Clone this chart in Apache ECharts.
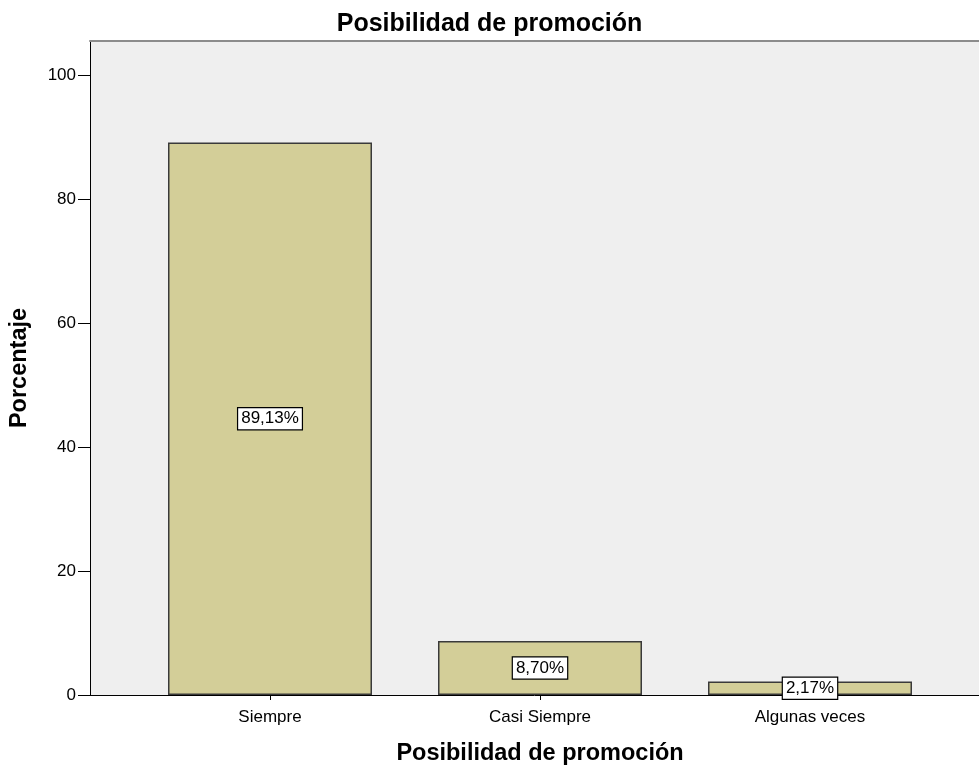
<!DOCTYPE html>
<html>
<head>
<meta charset="utf-8">
<title>Posibilidad de promoción</title>
<script src="https://cdn.jsdelivr.net/npm/echarts@6/dist/echarts.min.js"></script>
<style>
  html, body { margin: 0; padding: 0; background: #ffffff; }
  #chart { width: 979px; height: 768px; }
</style>
</head>
<body>
<div id="chart"></div>
<script>
// Response categories and their share of respondents (%)
const categories = ['Siempre', 'Casi Siempre', 'Algunas veces'];
const percentages = [89.13, 8.70, 2.17];
// Y axis tick values
const yTicks = [0, 20, 40, 60, 80, 100];
const yMax = 105.5;

const FONT = '"Liberation Sans", Arial, Helvetica, sans-serif';

const chart = echarts.init(document.getElementById('chart'), null, { renderer: 'canvas' });

const option = {
  backgroundColor: '#ffffff',
  animation: false,
  title: {
    text: 'Posibilidad de promoción',
    left: 'center',
    top: 7,
    textStyle: { fontFamily: FONT, fontSize: 25, fontWeight: 'bold', color: '#000' }
  },
  grid: [
    // full plot frame (background + axis lines)
    { left: 90, right: 0, top: 41, bottom: 73, show: true, backgroundColor: '#efefef', borderWidth: 0, outerBoundsMode: 'none' },
    // band area used for the bars
    { left: 135, width: 810, top: 41, bottom: 73, outerBoundsMode: 'none' }
  ],
  xAxis: [
    {
      gridIndex: 0, type: 'value', min: 0, max: 1, position: 'bottom',
      axisLine: { show: true, lineStyle: { color: '#000', width: 1 } },
      axisTick: { show: false }, axisLabel: { show: false }, splitLine: { show: false }
    },
    {
      gridIndex: 0, type: 'value', min: 0, max: 1, position: 'top',
      axisLine: { show: true, lineStyle: { color: '#8c8c8c', width: 2 } },
      axisTick: { show: false }, axisLabel: { show: false }, splitLine: { show: false }
    },
    {
      gridIndex: 1, type: 'category', data: categories, position: 'bottom',
      axisLine: { show: false },
      axisTick: { show: true, alignWithLabel: true, length: 5, lineStyle: { color: '#000', width: 1 } },
      axisLabel: { fontFamily: FONT, fontSize: 17, color: '#000', margin: 14 },
      splitLine: { show: false },
      name: 'Posibilidad de promoción',
      nameLocation: 'middle',
      nameGap: 47,
      nameTextStyle: { fontFamily: FONT, fontSize: 23.5, fontWeight: 'bold', color: '#000' }
    }
  ],
  yAxis: [
    {
      gridIndex: 0, type: 'value', min: 0, max: yMax,
      axisLine: { show: true, lineStyle: { color: '#000', width: 1 } },
      axisTick: { show: true, length: 12, customValues: yTicks, lineStyle: { color: '#000', width: 1 } },
      axisLabel: { fontFamily: FONT, fontSize: 17, color: '#000', margin: 14, customValues: yTicks },
      splitLine: { show: false },
      name: 'Porcentaje',
      nameLocation: 'middle',
      nameGap: 58,
      nameTextStyle: { fontFamily: FONT, fontSize: 23.5, fontWeight: 'bold', color: '#000' }
    },
    {
      gridIndex: 1, type: 'value', min: 0, max: yMax, show: false
    }
  ],
  series: [
    {
      type: 'bar',
      xAxisIndex: 2,
      yAxisIndex: 1,
      data: percentages,
      barWidth: 204,
      itemStyle: { color: '#d3ce98', borderColor: '#3a3a3a', borderWidth: 1.5 },
      label: {
        show: true,
        position: 'inside',
        formatter: p => p.value.toFixed(2).replace('.', ',') + '%',
        fontFamily: FONT,
        fontSize: 17,
        color: '#000',
        backgroundColor: '#ffffff',
        borderColor: '#000',
        borderWidth: 1.2,
        padding: [2, 3, 2, 3]
      }
    }
  ]
};

chart.setOption(option);
</script>
</body>
</html>
